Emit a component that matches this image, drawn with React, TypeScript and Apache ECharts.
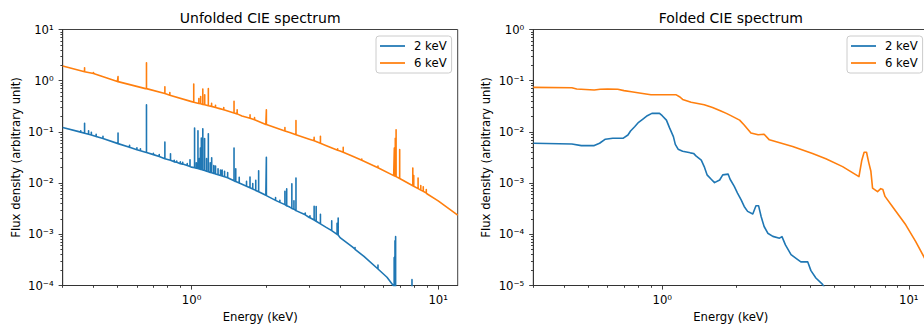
import React, { useEffect, useRef } from "react";
import * as echarts from "echarts";

// ---------- data ----------
const seriesNames = ["2 keV", "6 keV"];

// Unfolded spectrum: continuum points [energy keV, flux]
const unfolded2keVContinuum: [number, number][] = [
  [0.3, 0.122], [0.65, 0.04], [1.0, 0.0205], [1.5, 0.0108], [2.0, 0.0058],
  [2.5, 0.0034], [3.0, 0.00213], [3.5, 0.00138], [4.0, 0.00086], [4.5, 0.00056],
  [5.0, 0.00037], [5.7, 0.00021], [6.2, 0.000145], [6.57, 0.0001], [7.0, 0.000056],
  [8.0, 0.000016], [12, 0.0000003],
];
// Unfolded spectrum: emission lines [energy keV, base flux, peak flux]
const unfolded2keVLines: [number, number, number][] = [
  [0.355, 0.099, 0.105], [0.368, 0.094, 0.148], [0.382, 0.09, 0.105], [0.392, 0.087, 0.098],
  [0.41, 0.081, 0.09], [0.437, 0.074, 0.082], [0.503, 0.059, 0.0948], [0.56, 0.05, 0.055],
  [0.6, 0.045, 0.049], [0.62, 0.043, 0.047], [0.656, 0.0395, 0.337], [0.7, 0.036, 0.038],
  [0.739, 0.033, 0.036], [0.779, 0.03, 0.063], [0.821, 0.028, 0.0375], [0.85, 0.026, 0.028],
  [0.87, 0.0255, 0.027], [0.9, 0.024, 0.026], [0.92, 0.0235, 0.0255], [0.96, 0.022, 0.024],
  [0.985, 0.021, 0.0286], [1.028, 0.02, 0.119], [1.045, 0.0196, 0.025], [1.061, 0.0192, 0.105],
  [1.075, 0.0189, 0.03], [1.085, 0.0186, 0.0484], [1.095, 0.0184, 0.0755], [1.11, 0.018, 0.115],
  [1.129, 0.0176, 0.074], [1.15, 0.0171, 0.03], [1.169, 0.0167, 0.0918], [1.19, 0.0162, 0.025],
  [1.206, 0.0159, 0.0313], [1.23, 0.0155, 0.022], [1.25, 0.0151, 0.0215], [1.28, 0.0146, 0.019],
  [1.31, 0.0141, 0.018], [1.33, 0.0138, 0.018], [1.36, 0.0133, 0.017], [1.4, 0.0127, 0.016],
  [1.486, 0.0111, 0.0484], [1.51, 0.0107, 0.019], [1.56, 0.01, 0.013], [1.67, 0.0087, 0.0108],
  [1.725, 0.0081, 0.0131], [1.77, 0.0077, 0.0098], [1.82, 0.0072, 0.0113], [1.87, 0.0068, 0.0174],
  [2.01, 0.0057, 0.0318], [2.19, 0.0046, 0.0052], [2.28, 0.0042, 0.0046], [2.39, 0.0038, 0.0069],
  [2.43, 0.0036, 0.0077], [2.55, 0.0032, 0.0097], [2.6, 0.0031, 0.0045], [2.65, 0.0029, 0.0126],
  [2.89, 0.0024, 0.0026], [3.02, 0.0021, 0.0023], [3.14, 0.0019, 0.00354], [3.2, 0.0018, 0.0035],
  [3.33, 0.0016, 0.00245], [3.7, 0.00118, 0.00183], [3.89, 0.001, 0.00164], [3.93, 0.00097, 0.00208],
  [4.6, 0.00051, 0.00055], [5.7, 0.00021, 0.00025], [6.63, 0.000095, 0.00035], [6.68, 0.00009, 0.00075],
  [6.72, 0.000085, 0.0009], [7.83, 0.00002, 0.00013],
];

const unfolded6keVContinuum: [number, number][] = [
  [0.3, 1.93], [0.5, 0.96], [0.65, 0.7], [1.0, 0.39], [1.3, 0.285], [1.6, 0.205],
  [2.0, 0.14], [2.5, 0.097], [3.0, 0.072], [3.5, 0.0545], [4.0, 0.0425], [4.5, 0.0335],
  [5.0, 0.0268], [5.7, 0.02], [6.6, 0.014], [7.0, 0.0121], [8.0, 0.0086], [9.0, 0.0062],
  [10, 0.0045], [12, 0.00237],
];
const unfolded6keVLines: [number, number, number][] = [
  [0.368, 1.5, 1.79], [0.4, 1.38, 1.45], [0.503, 0.96, 1.2], [0.656, 0.7, 2.24],
  [0.779, 0.56, 0.76], [0.816, 0.52, 0.585], [1.02, 0.38, 0.86], [1.07, 0.36, 0.45],
  [1.088, 0.355, 0.49], [1.11, 0.345, 0.69], [1.13, 0.34, 0.53], [1.169, 0.325, 0.7],
  [1.205, 0.315, 0.36], [1.25, 0.3, 0.33], [1.35, 0.27, 0.3], [1.486, 0.235, 0.397],
  [1.53, 0.225, 0.27], [1.726, 0.185, 0.215], [1.8, 0.172, 0.19], [2.01, 0.139, 0.269],
  [2.39, 0.104, 0.122], [2.65, 0.088, 0.167], [3.14, 0.067, 0.078], [3.33, 0.06, 0.082],
  [3.91, 0.044, 0.047], [4.12, 0.04, 0.0498], [4.9, 0.028, 0.0296], [5.7, 0.02, 0.0215],
  [6.64, 0.0139, 0.0484], [6.7, 0.0136, 0.075], [6.75, 0.0134, 0.11], [6.98, 0.0123, 0.045],
  [7.89, 0.0089, 0.0197], [7.96, 0.0087, 0.014], [8.29, 0.0078, 0.0126], [8.5, 0.0073, 0.009],
  [8.7, 0.0069, 0.0085], [8.95, 0.0064, 0.0075],
];

// Folded spectrum [energy keV, flux]
const folded2keV: [number, number][] = [
  [0.3, 0.006], [0.43, 0.0058], [0.47, 0.0054], [0.53, 0.0054], [0.557, 0.006], [0.588, 0.0072],
  [0.63, 0.0075], [0.693, 0.0075], [0.726, 0.0087], [0.744, 0.0104], [0.773, 0.0126], [0.802, 0.0154],
  [0.835, 0.0178], [0.87, 0.0207], [0.908, 0.023], [0.975, 0.023], [1.0, 0.0207], [1.04, 0.017],
  [1.07, 0.0121], [1.11, 0.0081], [1.13, 0.0057], [1.16, 0.0046], [1.21, 0.0042], [1.3, 0.0039],
  [1.34, 0.0038], [1.37, 0.0034], [1.44, 0.0028], [1.48, 0.0021], [1.52, 0.00145], [1.58, 0.00119],
  [1.63, 0.00102], [1.71, 0.00115], [1.76, 0.00145], [1.85, 0.0015], [1.885, 0.00119], [1.96, 0.00086],
  [2.02, 0.00064], [2.09, 0.00047], [2.15, 0.00035], [2.22, 0.00028], [2.33, 0.00025], [2.4, 0.00036],
  [2.46, 0.00036], [2.52, 0.00022], [2.59, 0.000142], [2.68, 0.000105], [2.81, 0.000091], [2.99, 0.000084],
  [3.06, 0.00009], [3.16, 0.000062], [3.33, 0.00004], [3.49, 0.000034], [3.65, 0.000029], [3.89, 0.000029],
  [4.01, 0.0000195], [4.2, 0.000014], [4.47, 0.0000105], [4.7, 0.000007], [5.5, 0.000003],
];
const folded6keV: [number, number][] = [
  [0.3, 0.074], [0.43, 0.073], [0.45, 0.069], [0.53, 0.066], [0.56, 0.068], [0.6, 0.069],
  [0.66, 0.068], [0.7, 0.064], [0.75, 0.061], [0.82, 0.057], [0.9, 0.053], [1.14, 0.053],
  [1.18, 0.048], [1.21, 0.043], [1.31, 0.038], [1.48, 0.034], [1.6, 0.03], [1.73, 0.0255],
  [1.82, 0.023], [1.89, 0.021], [2.06, 0.017], [2.15, 0.0136], [2.29, 0.0095], [2.45, 0.0088],
  [2.59, 0.009], [2.72, 0.007], [3.38, 0.0052], [4.07, 0.0038], [4.61, 0.003], [5.39, 0.0021],
  [6.28, 0.00134], [6.45, 0.0028], [6.59, 0.004], [6.74, 0.004], [6.87, 0.0026], [7.02, 0.0017],
  [7.13, 0.0008], [7.47, 0.00068], [7.7, 0.00078], [7.85, 0.00075], [8.01, 0.00055], [8.58, 0.00035],
  [9.72, 0.000153], [10.67, 0.000072], [11.6, 0.000034], [12, 0.000026],
];

// Tick values
const xMajorTicks = [1, 10];
const xMinorTicks = [0.3, 0.4, 0.5, 0.6, 0.7, 0.8, 0.9, 2, 3, 4, 5, 6, 7, 8, 9];
const yMajorTicksUnfolded = [1e-4, 1e-3, 1e-2, 1e-1, 1, 10];
const yMajorTicksFolded = [1e-5, 1e-4, 1e-3, 1e-2, 1e-1, 1];
const minorMultipliers = [2, 3, 4, 5, 6, 7, 8, 9];

// ---------- styling ----------
const FONT = "DejaVu Sans";
const BLUE = "#1f77b4";
const ORANGE = "#ff7f0e";
const AXIS = "#333333";
const FS = 11.67;

const SUP: Record<string, string> = {
  "-": "\u207B", "0": "\u2070", "1": "\u00B9", "2": "\u00B2", "3": "\u00B3",
  "4": "\u2074", "5": "\u2075", "6": "\u2076", "7": "\u2077", "8": "\u2078", "9": "\u2079",
};
const logLabel = (v: number) =>
  "10" + String(Math.round(Math.log10(v))).split("").map((c) => SUP[c] || c).join("");

const minorFromMajors = (majors: number[]) =>
  majors.slice(0, -1).flatMap((d) => minorMultipliers.map((m) => +(m * d).toPrecision(3)));

function buildSpectrum(cont: [number, number][], lines: [number, number, number][]) {
  const pts: { e: number; seq: [number, number][] }[] = cont.map(([e, f]) => ({ e, seq: [[e, f]] }));
  lines.forEach(([e, b, p]) => pts.push({ e, seq: [[e, b], [e, p], [e, b]] }));
  pts.sort((a, b) => a.e - b.e);
  return pts.flatMap((p) => p.seq);
}

const tickLine = { color: AXIS, width: 0.93 };
const textBase = { fontFamily: FONT, fontSize: FS, color: "#000" };

function majorX(grid: number) {
  return {
    type: "log", logBase: 10, gridIndex: grid, min: 0.3, max: 12, position: "bottom",
    name: "Energy (keV)", nameLocation: "middle", nameGap: 25, nameTextStyle: { ...textBase },
    axisLine: { show: true, onZero: false, lineStyle: tickLine },
    axisTick: { show: true, inside: false, length: 4.1, lineStyle: tickLine, customValues: xMajorTicks },
    axisLabel: { show: true, customValues: xMajorTicks, formatter: logLabel, margin: 8.5, ...textBase },
    splitLine: { show: false }, minorTick: { show: false }, minorSplitLine: { show: false },
  };
}
function minorX(grid: number) {
  return {
    type: "log", logBase: 10, gridIndex: grid, min: 0.3, max: 12, position: "bottom",
    axisLine: { show: false, onZero: false },
    axisTick: { show: true, inside: false, length: 2.3, lineStyle: tickLine, customValues: xMinorTicks },
    axisLabel: { show: false }, splitLine: { show: false },
  };
}
function majorY(grid: number, ticks: number[]) {
  return {
    type: "log", logBase: 10, gridIndex: grid, min: ticks[0], max: ticks[ticks.length - 1], position: "left",
    name: "Flux density (arbitrary unit)", nameLocation: "middle", nameGap: 41, nameTextStyle: { ...textBase },
    axisLine: { show: true, onZero: false, lineStyle: tickLine },
    axisTick: { show: true, inside: false, length: 4.1, lineStyle: tickLine, customValues: ticks },
    axisLabel: { show: true, customValues: ticks, formatter: logLabel, margin: 9, ...textBase },
    splitLine: { show: false }, minorTick: { show: false }, minorSplitLine: { show: false },
  };
}
function minorY(grid: number, ticks: number[]) {
  return {
    type: "log", logBase: 10, gridIndex: grid, min: ticks[0], max: ticks[ticks.length - 1], position: "left",
    axisLine: { show: false, onZero: false },
    axisTick: { show: true, inside: false, length: 2.3, lineStyle: tickLine, customValues: minorFromMajors(ticks) },
    axisLabel: { show: false }, splitLine: { show: false },
  };
}
function legendAt(left: number) {
  return {
    orient: "vertical", left, top: 36, data: seriesNames, icon: "rect",
    itemWidth: 25, itemHeight: 1.75, itemGap: 3, padding: [3, 5, 3, 4],
    backgroundColor: "rgba(255,255,255,0.8)", borderColor: "#cccccc", borderWidth: 1, borderRadius: 3,
    selectedMode: false,
    textStyle: { ...textBase, lineHeight: 14, padding: [0, 0, 0, 4] },
  };
}
function lineSeries(name: string, color: string, xi: number, yi: number, data: [number, number][]) {
  return {
    type: "line", name, xAxisIndex: xi, yAxisIndex: yi, data, color,
    showSymbol: false, symbol: "none", clip: true, sampling: undefined,
    lineStyle: { color, width: 1.6, join: "round" }, emphasis: { disabled: true },
  };
}

export default function App() {
  const ref = useRef<HTMLDivElement>(null);
  useEffect(() => {
    if (!ref.current) return;
    const chart = echarts.init(ref.current, undefined, { renderer: "svg" });
    const gridCommon = { show: true, borderColor: AXIS, borderWidth: 0.93, backgroundColor: "transparent", containLabel: false, outerBoundsMode: "none" };
    chart.setOption({
      animation: false,
      backgroundColor: "#ffffff",
      title: [
        { text: "Unfolded CIE spectrum", left: 260.2, top: 11, textAlign: "center", padding: 0,
          textStyle: { fontFamily: FONT, fontSize: 14, fontWeight: "normal", color: "#000" } },
        { text: "Folded CIE spectrum", left: 730.8, top: 11, textAlign: "center", padding: 0,
          textStyle: { fontFamily: FONT, fontSize: 14, fontWeight: "normal", color: "#000" } },
      ],
      grid: [
        { ...gridCommon, left: 62.7, top: 29.5, width: 395, height: 256 },
        { ...gridCommon, left: 533.3, top: 29.5, width: 395, height: 256 },
      ],
      xAxis: [majorX(0), minorX(0), majorX(1), minorX(1)],
      yAxis: [majorY(0, yMajorTicksUnfolded), minorY(0, yMajorTicksUnfolded), majorY(1, yMajorTicksFolded), minorY(1, yMajorTicksFolded)],
      legend: [legendAt(376), legendAt(847)],
      series: [
        lineSeries(seriesNames[0], BLUE, 0, 0, buildSpectrum(unfolded2keVContinuum, unfolded2keVLines)),
        lineSeries(seriesNames[1], ORANGE, 0, 0, buildSpectrum(unfolded6keVContinuum, unfolded6keVLines)),
        lineSeries(seriesNames[0], BLUE, 2, 2, folded2keV),
        lineSeries(seriesNames[1], ORANGE, 2, 2, folded6keV),
      ],
    });
    return () => chart.dispose();
  }, []);
  return (
    <div style={{ position: "absolute", left: 0, top: 0, width: 924, height: 324, overflow: "hidden", background: "#fff" }}>
      <div ref={ref} style={{ width: 924, height: 324 }} />
    </div>
  );
}
